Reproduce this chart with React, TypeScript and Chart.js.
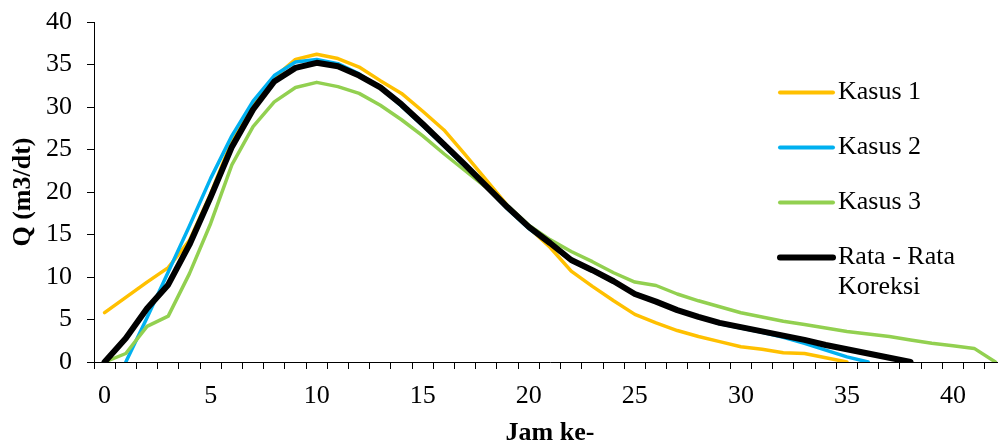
import React, { useEffect, useRef } from "react";
import { Chart, registerables } from "chart.js";

Chart.register(...registerables);

const hours = ["0","1","2","3","4","5","6","7","8","9","10","11","12","13","14","15","16","17","18","19","20","21","22","23","24","25","26","27","28","29","30","31","32","33","34","35","36","37","38","39","40","41","42"];

const kasus1 = [5.8,7.6,9.4,11.1,14.3,19.8,26.0,30.4,33.5,35.6,36.2,35.7,34.7,33.1,31.6,29.5,27.3,24.4,21.4,18.4,15.8,13.5,10.7,8.9,7.2,5.6,4.6,3.7,3.0,2.4,1.8,1.5,1.1,1.0,0.5,0.0,null,null,null,null,null,null,null];

const kasus2 = [null,0,5.2,10.6,16.0,21.6,26.6,30.7,33.7,35.3,35.6,35.1,33.9,32.3,30.1,27.8,25.4,23.0,20.6,18.0,15.7,13.9,11.9,10.7,9.4,8.1,7.1,6.1,5.3,4.5,4.0,3.5,2.9,2.2,1.4,0.6,0.0,null,null,null,null,null,null];

const kasus3 = [0,1.0,4.2,5.4,10.4,16.3,23.2,27.7,30.6,32.3,32.9,32.4,31.6,30.2,28.5,26.6,24.5,22.5,20.5,18.4,16.1,14.4,13.0,11.8,10.5,9.4,9.0,8.0,7.2,6.5,5.8,5.3,4.8,4.4,4.0,3.6,3.3,3.0,2.6,2.2,1.9,1.6,0.0];

const rataKoreksi = [0,2.8,6.3,9.1,13.8,19.4,25.3,29.7,33.0,34.6,35.2,34.8,33.7,32.3,30.3,28.0,25.6,23.2,20.7,18.2,15.9,14.0,12.0,10.8,9.5,8.0,7.1,6.1,5.3,4.6,4.1,3.6,3.1,2.6,2.0,1.5,1.0,0.5,0.0,null,null,null,null];

const seriesNames = ["Kasus 1", "Kasus 2", "Kasus 3", "Rata - Rata\nKoreksi"];
const seriesColors = ["#FFC000", "#00B0F0", "#92D050", "#000000"];
const seriesWidths = [3.5, 3.5, 3.5, 6];

const FONT = "'Liberation Serif', 'Times New Roman', serif";

const legendPlugin = {
  id: "customLegend",
  afterDraw(chart: any) {
    const ctx = chart.ctx;
    ctx.save();
    const x0 = 780;
    const x1 = 833;
    const ys = [92.5, 147.5, 202.5, 257.5];
    ctx.font = `26px ${FONT}`;
    ctx.textBaseline = "middle";
    ctx.textAlign = "left";
    seriesNames.forEach((name, i) => {
      ctx.beginPath();
      ctx.strokeStyle = seriesColors[i];
      ctx.lineWidth = i === 3 ? 6 : 4;
      ctx.lineCap = "round";
      ctx.moveTo(x0, ys[i]);
      ctx.lineTo(x1, ys[i]);
      ctx.stroke();
      ctx.fillStyle = "#000";
      const lines = name.split("\n");
      lines.forEach((ln, j) => {
        ctx.fillText(ln, 838, ys[i] + j * 30);
      });
    });
    ctx.restore();
  },
};

export default function App() {
  const ref = useRef<HTMLCanvasElement | null>(null);
  useEffect(() => {
    if (!ref.current) return;
    const datas = [kasus1, kasus2, kasus3, rataKoreksi];
    const chart = new Chart(ref.current, {
      type: "line",
      data: {
        labels: hours,
        datasets: datas.map((d, i) => ({
          label: seriesNames[i],
          data: d,
          borderColor: seriesColors[i],
          backgroundColor: seriesColors[i],
          borderWidth: seriesWidths[i],
          pointRadius: 0,
          tension: 0,
          fill: false,
          borderJoinStyle: "round" as const,
          borderCapStyle: "round" as const,
          order: 4 - i,
        })),
      },
      options: {
        animation: false,
        responsive: true,
        maintainAspectRatio: false,
        layout: { padding: { top: 22, right: 0, bottom: 0, left: 0 } },
        plugins: {
          legend: { display: false },
          tooltip: { enabled: false },
        },
        scales: {
          x: {
            type: "category",
            offset: true,
            grid: {
              offset: true,
              drawOnChartArea: false,
              drawTicks: true,
              tickLength: 7,
              color: "#000",
              lineWidth: 1,
            },
            border: { color: "#000", width: 1 },
            ticks: {
              autoSkip: false,
              maxRotation: 0,
              minRotation: 0,
              padding: 12,
              color: "#000",
              font: { family: FONT, size: 26 },
              callback: (_v: any, i: number) => (i % 5 === 0 ? hours[i] : ""),
            },
            title: {
              display: true,
              text: "Jam ke-",
              color: "#000",
              font: { family: FONT, size: 26, weight: "bold" },
              padding: { top: 0, bottom: -4 },
            },
            afterFit: (scale: any) => {
              scale.height = 83;
              scale.paddingLeft = 0;
              scale.paddingRight = 0;
            },
          },
          y: {
            min: 0,
            max: 40,
            ticks: {
              stepSize: 5,
              padding: 15,
              color: "#000",
              font: { family: FONT, size: 26 },
            },
            grid: {
              drawOnChartArea: false,
              drawTicks: true,
              tickLength: 7,
              color: "#000",
              lineWidth: 1,
            },
            border: { color: "#000", width: 1 },
            title: {
              display: true,
              text: "Q (m3/dt)",
              color: "#000",
              font: { family: FONT, size: 26, weight: "bold" },
              padding: { top: 8, bottom: 0 },
            },
            afterFit: (scale: any) => {
              scale.width = 94;
              scale.paddingTop = 0;
              scale.paddingBottom = 0;
            },
          },
        },
      },
      plugins: [legendPlugin],
    });
    return () => chart.destroy();
  }, []);

  return (
    <div style={{ position: "absolute", left: 0, top: 0, width: 998, height: 445, overflow: "hidden", background: "#fff" }}>
      <div style={{ position: "relative", width: 1006, height: 445 }}>
        <canvas ref={ref} />
      </div>
    </div>
  );
}
